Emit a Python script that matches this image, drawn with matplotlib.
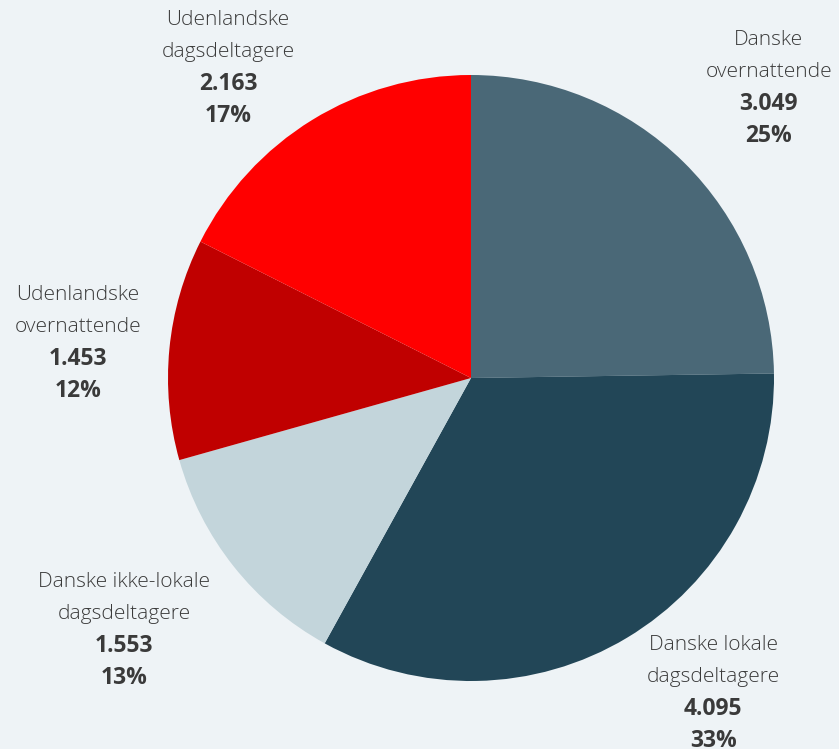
import matplotlib.pyplot as plt

# Data
categories = ["Danske\novernattende", "Danske lokale\ndagsdeltagere", "Danske ikke-lokale\ndagsdeltagere",
              "Udenlandske\novernattende", "Udenlandske\ndagsdeltagere"]
values = [3049, 4095, 1553, 1453, 2163]
value_labels = ["3.049", "4.095", "1.553", "1.453", "2.163"]
pct_labels = ["25%", "33%", "13%", "12%", "17%"]
colors = ["#4a6877", "#224657", "#c3d5db", "#c00000", "#ff0000"]

# label block centers, in units of the pie radius
label_pos = [(0.983, 0.957), (0.799, -1.040), (-1.145, -0.832), (-1.297, 0.116), (-0.802, 1.023)]

bg = "#eef3f6"
fig = plt.figure(figsize=(8.39, 7.49), dpi=100, facecolor=bg)
ax = fig.add_axes([0, 0, 1, 1])
ax.set_facecolor(bg)

ax.pie(values, colors=colors, startangle=90, counterclock=False, radius=1.0,
       wedgeprops=dict(linewidth=0))

ax.set_xlim(-471 / 303, (839 - 471) / 303)
ax.set_ylim(-371 / 303, 378 / 303)
ax.set_aspect('auto')
ax.axis('off')

txt_color = "#3a3a3a"
step = 23  # points between lines
for cat, vl, pct, (x, y) in zip(categories, value_labels, pct_labels, label_pos):
    lines = cat.split("\n")
    items = [(lines[0], "light", 15), (lines[1], "light", 15), (vl, "bold", 16.5), (pct, "bold", 16.5)]
    for i, (t, w, fs) in enumerate(items):
        off = (1.5 - i) * step
        ax.annotate(t, xy=(x, y), xytext=(0, off), textcoords="offset points",
                    ha="center", va="center", fontsize=fs, color=txt_color,
                    family="Open Sans", fontweight=w)

plt.savefig("out.png", dpi=100, facecolor=bg)
